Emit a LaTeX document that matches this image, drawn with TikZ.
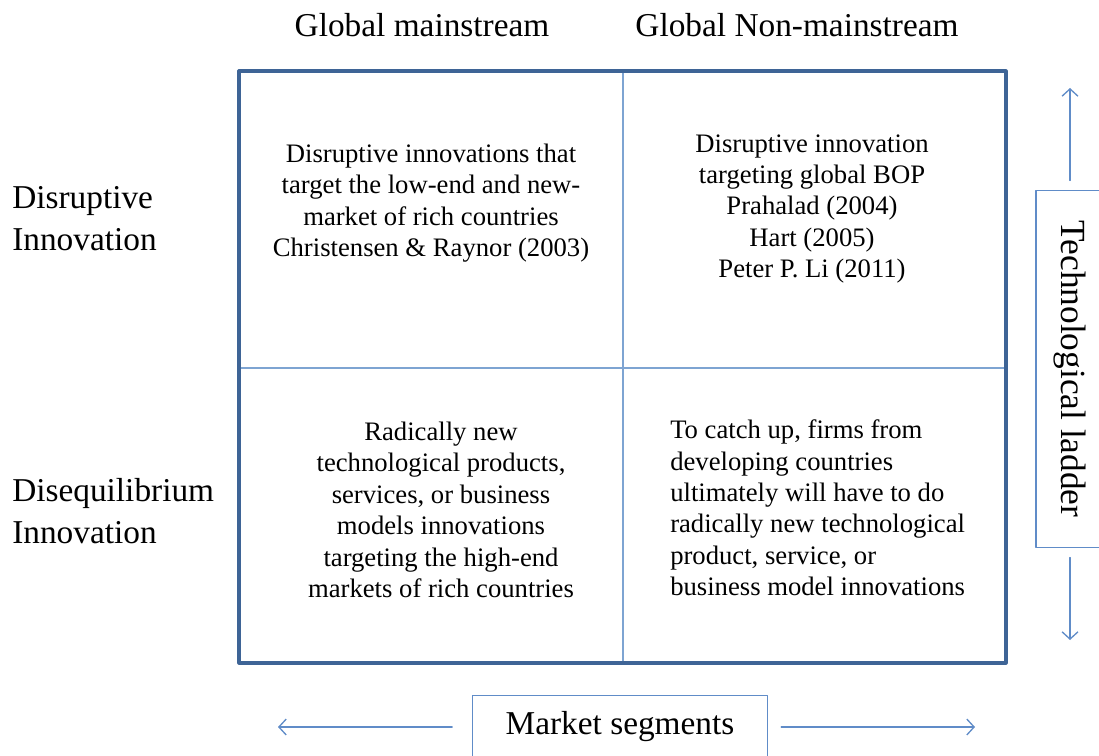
\documentclass[tikz,border=0pt]{standalone}
\usepackage{fontspec}
\setmainfont{Liberation Serif}
\usetikzlibrary{arrows.meta,positioning}

\definecolor{gridblue}{RGB}{62,100,150}
\definecolor{lineblue}{RGB}{126,164,210}
\definecolor{labelblue}{RGB}{96,140,200}

\begin{document}
\begin{tikzpicture}[x=0.75pt,y=-0.75pt,>={Straight Barb[length=5.5pt,width=12pt]},
    line cap=round,line join=round,
    heading/.style={font=\fontsize{25}{30}\selectfont,inner sep=0pt},
    rowlabel/.style={font=\fontsize{25}{31.5}\selectfont,align=left,anchor=west,inner sep=0pt},
    celltext/.style={font=\fontsize{20}{23.6}\selectfont,align=center,inner sep=0pt},
    axisbox/.style={draw=labelblue,line width=.8pt,font=\fontsize{25}{30}\selectfont},
    axisarrow/.style={->,draw=labelblue,line width=1pt}]
  \useasboundingbox (0,0) rectangle (1099,756);

  % The grid: two columns of markets, two rows of innovations.
  \coordinate (nw) at (239,71);
  \coordinate (se) at (1006,663);
  \coordinate (mid) at (623,368);
  \draw[lineblue,line width=1.4pt] (mid |- nw) -- (mid |- se);
  \draw[lineblue,line width=1.4pt] (nw |- mid) -- (se |- mid);
  \draw[gridblue,line width=2.4pt] (nw) rectangle (se);

  % Column and row headings.
  \node[heading] (mainstream) at (422,25) {Global mainstream};
  \node[heading] (nonmainstream) at (797,25) {Global Non-mainstream};
  \node[rowlabel] (disruptive) at (12,219) {Disruptive\\Innovation};
  \node[rowlabel] (disequilibrium) at (12,511) {Disequilibrium\\Innovation};

  % Contents of the four cells.
  \node[celltext] (lowend) at (431,203)
    {Disruptive innovations that\\target the low-end and new-\\market of rich countries\\Christensen \& Raynor (2003)};
  \node[celltext] (bop) at (812,209)
    {Disruptive innovation\\targeting global BOP\\Prahalad (2004)\\Hart (2005)\\Peter P. Li (2011)};
  \node[celltext] (highend) at (441,510)
    {Radically new\\technological products,\\services, or business\\models innovations\\targeting the high-end\\markets of rich countries};
  \node[celltext,align=left,anchor=west] (catchup) at (670,508)
    {To catch up, firms from\\developing countries\\ultimately will have to do\\radically new technological\\product, service, or\\business model innovations};

  % The vertical axis on the right.
  \node[axisbox,font=\fontsize{26.5}{30}\selectfont,rotate=-90,minimum width=268pt,minimum height=51pt]
    (ladder) at (1070,369) {Technological ladder};
  \coordinate (ladder top) at (1070,88);
  \coordinate (ladder bottom) at (1070,640);
  \draw[axisarrow,shorten <=7pt] (ladder.west) -- (ladder top);
  \draw[axisarrow,shorten <=7pt] (ladder.east) -- (ladder bottom);

  % The horizontal axis below.
  \node[axisbox,minimum width=221pt,minimum height=47pt] (market) at (620,727)
    {Market segments};
  \coordinate (market left) at (278,727);
  \coordinate (market right) at (975,727);
  \draw[axisarrow,shorten <=15pt] (market.west) -- (market left);
  \draw[axisarrow,shorten <=10pt] (market.east) -- (market right);
\end{tikzpicture}
\end{document}
